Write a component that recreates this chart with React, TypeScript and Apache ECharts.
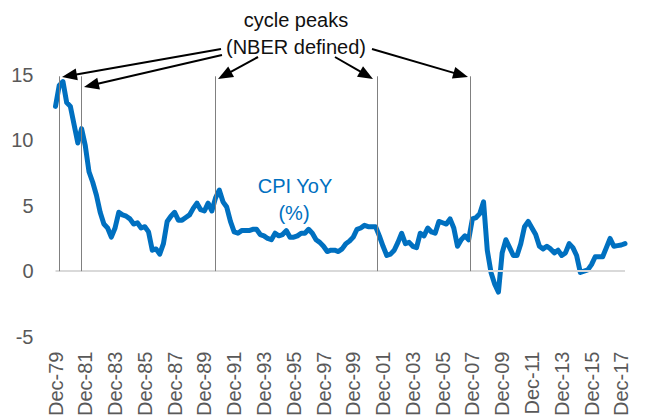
import React, { useEffect, useRef } from 'react';
import * as echarts from 'echarts';

// Quarterly-average CPI YoY (%), Q4-1979 ... Q1-2018 (one value every 3 months)
const cpiYoY: number[] = [
  12.6,
  14.2, 14.5, 12.9, 12.6, // 1980
  11.2, 9.8, 10.9, 9.6, // 1981
  7.6, 6.8, 5.8, 4.5, // 1982
  3.6, 3.3, 2.6, 3.3, // 1983
  4.5, 4.3, 4.2, 4.0, // 1984
  3.6, 3.7, 3.3, 3.4, // 1985
  3.0, 1.6, 1.7, 1.3, // 1986
  2.1, 3.8, 4.2, 4.5, // 1987
  3.9, 3.9, 4.1, 4.3, // 1988
  4.8, 5.2, 4.7, 4.6, // 1989
  5.2, 4.6, 5.6, 6.2, // 1990
  5.3, 4.9, 3.8, 3.0, // 1991
  2.9, 3.1, 3.1, 3.1, // 1992
  3.2, 3.2, 2.8, 2.7, // 1993
  2.5, 2.4, 2.9, 2.7, // 1994
  2.8, 3.1, 2.6, 2.6, // 1995
  2.7, 2.9, 2.9, 3.2, // 1996
  2.9, 2.4, 2.2, 1.9, // 1997
  1.5, 1.6, 1.6, 1.5, // 1998
  1.7, 2.1, 2.3, 2.6, // 1999
  3.2, 3.3, 3.5, 3.4, // 2000
  3.4, 3.4, 2.7, 1.9, // 2001
  1.2, 1.3, 1.6, 2.2, // 2002
  2.9, 2.1, 2.2, 1.9, // 2003
  1.8, 2.9, 2.7, 3.3, // 2004
  3.0, 2.9, 3.8, 3.7, // 2005
  3.6, 4.0, 3.3, 1.9, // 2006
  2.4, 2.7, 2.4, 4.0, // 2007
  4.1, 4.4, 5.3, 1.6, // 2008
  -0.1, -1.0, -1.6, 1.4, // 2009
  2.4, 1.8, 1.2, 1.2, // 2010
  2.1, 3.4, 3.8, 3.3, // 2011
  2.8, 1.9, 1.7, 1.9, // 2012
  1.7, 1.4, 1.6, 1.2, // 2013
  1.4, 2.1, 1.8, 1.2, // 2014
  -0.1, 0.0, 0.1, 0.5, // 2015
  1.1, 1.1, 1.1, 1.8, // 2016
  2.5, 1.9, 1.95, 2.0, // 2017
  2.1, // 2018
];

const tickLabels: string[] = [
  'Dec-79', 'Dec-81', 'Dec-83', 'Dec-85', 'Dec-87', 'Dec-89', 'Dec-91',
  'Dec-93', 'Dec-95', 'Dec-97', 'Dec-99', 'Dec-01', 'Dec-03', 'Dec-05',
  'Dec-07', 'Dec-09', 'Dec-11', 'Dec-13', 'Dec-15', 'Dec-17',
];

// NBER cycle peaks, in months since Dec-79 (as drawn)
const cyclePeakNames: string[] = ['Jan-80', 'Jul-81', 'Jul-90', 'Mar-01', 'Dec-07'];
const cyclePeakMonths: number[] = [3, 21, 129, 259, 334];
const peakLineTop = 14.9;

const FONT = '"Liberation Sans", Arial, sans-serif';
const BLUE = '#0070C0';

function arrow(x1: number, y1: number, x2: number, y2: number) {
  const dx = x2 - x1;
  const dy = y2 - y1;
  const len = Math.sqrt(dx * dx + dy * dy);
  const ux = dx / len;
  const uy = dy / len;
  const headLen = 15;
  const headW = 6;
  const bx = x2 - ux * headLen;
  const by = y2 - uy * headLen;
  return [
    {
      type: 'line',
      shape: { x1, y1, x2: bx + ux * 2, y2: by + uy * 2 },
      style: { stroke: '#000', lineWidth: 2 },
      silent: true,
    },
    {
      type: 'polygon',
      shape: {
        points: [
          [x2, y2],
          [bx - uy * headW, by + ux * headW],
          [bx + uy * headW, by - ux * headW],
        ],
      },
      style: { fill: '#000' },
      silent: true,
    },
  ];
}

export default function App() {
  const ref = useRef<HTMLDivElement>(null);

  useEffect(() => {
    if (!ref.current) return;
    const chart = echarts.init(ref.current, null, { renderer: 'svg' });

    const lineData = cpiYoY.map((v, i) => [i * 3, v]);

    const arrows = [
      ...arrow(221, 49, 62, 77),
      ...arrow(222, 55, 84, 87),
      ...arrow(258, 57, 218, 79),
      ...arrow(335, 57, 373, 79),
      ...arrow(372, 49, 468, 77),
    ];

    chart.setOption({
      animation: false,
      backgroundColor: '#ffffff',
      grid: { left: 55.5, right: 24, top: 75, bottom: 80, containLabel: false },
      xAxis: {
        type: 'value',
        min: 0,
        max: (cpiYoY.length - 1) * 3,
        interval: 24,
        axisLine: { show: false },
        axisTick: { show: false },
        splitLine: { show: false },
        axisLabel: {
          rotate: 90,
          margin: 15,
          color: '#595959',
          fontSize: 20,
          fontFamily: FONT,
          showMaxLabel: true,
          formatter: (v: number) => (v % 24 === 0 ? tickLabels[v / 24] ?? '' : ''),
        },
      },
      yAxis: {
        type: 'value',
        min: -5,
        max: 15,
        interval: 5,
        axisLine: { show: false },
        axisTick: { show: false },
        splitLine: { show: false },
        axisLabel: {
          margin: 22,
          color: '#595959',
          fontSize: 20,
          fontFamily: FONT,
        },
      },
      series: [
        {
          name: 'refs',
          type: 'line',
          data: [],
          z: 1,
          silent: true,
          markLine: {
            silent: true,
            symbol: ['none', 'none'],
            label: { show: false },
            animation: false,
            data: [
              { yAxis: 0, lineStyle: { color: '#d9d9d9', width: 2, type: 'solid' } },
              ...cyclePeakMonths.map((m, i) => [
                { name: cyclePeakNames[i], coord: [m, 0], lineStyle: { color: '#808080', width: 1, type: 'solid' } },
                { coord: [m, peakLineTop] },
              ]),
            ],
          },
        },
        {
          name: 'CPI YoY (%)',
          type: 'line',
          z: 3,
          data: lineData,
          symbol: 'none',
          showSymbol: false,
          lineStyle: { color: BLUE, width: 5, cap: 'round', join: 'round' },
        },
      ],
      graphic: [
        {
          type: 'text',
          x: 296,
          y: 20,
          style: { text: 'cycle peaks', fill: '#111', fontSize: 20, fontFamily: FONT, align: 'center', verticalAlign: 'middle' },
          silent: true,
        },
        {
          type: 'text',
          x: 296,
          y: 47,
          style: { text: '(NBER defined)', fill: '#111', fontSize: 20, fontFamily: FONT, align: 'center', verticalAlign: 'middle' },
          silent: true,
        },
        {
          type: 'text',
          x: 295,
          y: 186,
          style: { text: 'CPI YoY', fill: BLUE, fontSize: 20, fontFamily: FONT, align: 'center', verticalAlign: 'middle' },
          silent: true,
        },
        {
          type: 'text',
          x: 294,
          y: 213,
          style: { text: '(%)', fill: BLUE, fontSize: 20, fontFamily: FONT, align: 'center', verticalAlign: 'middle' },
          silent: true,
        },
        ...arrows,
      ],
    });

    return () => chart.dispose();
  }, []);

  return (
    <div
      ref={ref}
      style={{ position: 'fixed', left: 0, top: 0, width: 649, height: 419, background: '#fff' }}
    />
  );
}
